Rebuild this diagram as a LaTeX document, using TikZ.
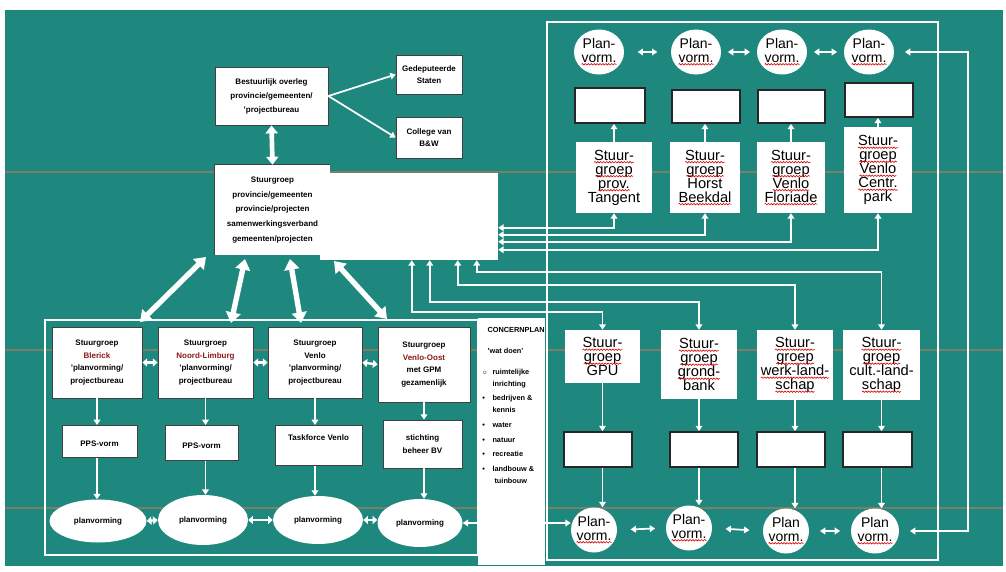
\documentclass[tikz,border=0pt]{standalone}
\usepackage{fontspec}
\setmainfont{Liberation Sans}
\usetikzlibrary{arrows.meta,decorations.pathmorphing,calc,shapes.geometric}
\definecolor{teal1}{RGB}{30,136,126}
\definecolor{dred}{RGB}{140,25,25}
\definecolor{stripe}{RGB}{214,120,80}
\newcommand\sq[1]{\tikz[baseline=(w.base)]{\node[inner sep=0pt,outer sep=0pt,anchor=base,minimum size=0pt,draw=none,fill=none,align=left](w){#1};\draw[red!85!black,line width=0.45pt,decorate,decoration={snake,amplitude=0.55pt,segment length=2.2pt}]([yshift=-1.6pt]w.base west)--([yshift=-1.6pt]w.base east);}}
\begin{document}
\begin{tikzpicture}[x=0.75pt,y=-0.75pt,
  sz/.style 2 args={minimum width=#1pt*0.75, minimum height=#2pt*0.75},
  wbox/.style={fill=white,draw=black!75,line width=0.6pt,inner sep=0pt},
  sbox/.style={fill=white,draw=none,inner sep=0pt},
  ebox/.style={fill=white,draw=black!85,line width=1.3pt,inner sep=0pt},
  circ/.style={ellipse,fill=white,draw=none,inner sep=0pt},
  lt/.style={font=\fontsize{11}{10.5}\selectfont,align=center,text=black},
  ct/.style={font=\fontsize{10.5}{10}\selectfont,align=center,text=black,inner sep=0pt},
  bt/.style={font=\bfseries\fontsize{6}{9.5}\selectfont,align=center,text=black},
  con/.style={white,line width=1.3pt,-{Triangle[width=5pt,length=4pt]}},
  dcon/.style={white,line width=1.3pt,{Triangle[width=5pt,length=4pt]}-{Triangle[width=5pt,length=4pt]}},
  sdcon/.style={white,line width=1.8pt,{Triangle[width=6pt,length=3.5pt]}-{Triangle[width=6pt,length=3.5pt]}},
  fat/.style={white,line width=4pt,{Triangle[width=11pt,length=8pt]}-{Triangle[width=11pt,length=8pt]}},
  frame/.style={white,line width=1.3pt}
]
\useasboundingbox (0,0) rectangle (1006,571);
\fill[white] (0,0) rectangle (1006,571);
\fill[teal1] (5,10) rectangle (1003,566);
\foreach \yy in {172,350,508} \draw[stripe,opacity=0.5,line width=0.8pt] (5,\yy) -- (1003,\yy);

% frames
\draw[frame] (45,320) rectangle (478,555);
\draw[frame] (547,22) rectangle (938,560);

% ---------- top left ----------
\node[wbox,sz={113}{58},bt,font=\bfseries\fontsize{6}{10.5}\selectfont] (bo) at (271.5,96) {Bestuurlijk overleg\\ provincie/gemeenten/\\ 'projectbureau};
\node[wbox,sz={66}{39},bt] (gs) at (429,74.5) {Gedeputeerde\\ Staten};
\node[wbox,sz={66}{41},bt] (bw) at (429,137.5) {College van\\ B\&W};
\node[sbox,sz={178}{87}] (wb) at (409,216.5) {};
\node[sbox,sz={115}{90},bt,font=\bfseries\fontsize{6}{11}\selectfont] (sg) at (272.5,210) {Stuurgroep\\ provincie/gemeenten\\ provincie/projecten\\ samenwerkingsverband\\ gemeenten/projecten};
\draw[black!75,line width=0.6pt] (sg.south west) |- (sg.north east);

\draw[con] (bo.east) -- (gs.west);
\draw[con] (bo.east) -- (bw.west);
\draw[white,line width=3.5pt,{Triangle[width=9pt,length=6pt]}-{Triangle[width=9pt,length=6pt]}] (bo.south) -- (sg.north);

% ---------- left lower ----------
\node[wbox,sz={90}{71},bt] (lb1) at (97,362.5) {Stuurgroep\\ \textcolor{dred}{Blerick}\\ 'planvorming/\\ projectbureau};
\node[wbox,sz={95}{71},bt] (lb2) at (205.5,362.5) {Stuurgroep\\ \textcolor{dred}{Noord-Limburg}\\ 'planvorming/\\ projectbureau};
\node[wbox,sz={94}{71},bt] (lb3) at (315,362.5) {Stuurgroep\\ Venlo\\ 'planvorming/\\ projectbureau};
\node[wbox,sz={92}{75},bt] (lb4) at (424,364.5) {Stuurgroep\\ \textcolor{dred}{Venlo-Oost}\\ met GPM\\ gezamenlijk};

\node[wbox,sz={75}{32},bt,anchor=north] (lc1) at (99.5,425) {\rule{0pt}{8pt}PPS-vorm};
\node[wbox,sz={73}{35},bt,anchor=north] (lc2) at (201.5,425) {\rule{0pt}{8pt}PPS-vorm};
\node[wbox,sz={87}{40},bt,anchor=north] (lc3) at (318.5,425) {\rule{0pt}{8pt}Taskforce Venlo\\[6pt]\mbox{}};
\node[wbox,sz={79}{48},bt] (lc4) at (422.5,444) {stichting\\ beheer BV};

\node[circ,sz={97}{43},bt] (le1) at (98,521) {planvorming};
\node[circ,sz={90}{50},bt] (le2) at (203,520) {planvorming};
\node[circ,sz={90}{48},bt] (le3) at (318,520) {planvorming};
\node[circ,sz={85}{48},bt] (le4) at (420,523) {planvorming};

\foreach \i in {1,2,3,4} {
  \draw[con] (lb\i.south) -- (lb\i.south |- lc\i.north);
  \draw[con] (lb\i.south |- lc\i.south) -- (lb\i.south |- le\i.north);
}
\draw[sdcon] (lb1.east) -- (lb2.west);
\draw[sdcon] (lb2.east) -- (lb3.west);
\draw[sdcon] (lb3.east) -- (lb4.west);
\draw[sdcon] (le1.east) -- (le2.west);
\draw[sdcon] (le2.east) -- (le3.west);
\draw[sdcon] (le3.east) -- (le3.east -| le4.west);

% fat arrows to the stuurgroep
\coordinate (f1) at (206,257);
\coordinate (f2) at (245,259);
\coordinate (f3) at (290,259);
\coordinate (f4) at (334,261);
\draw[fat] (f1) -- (140,322);
\draw[fat] (f2) -- (231,323);
\draw[fat] (f3) -- (301,323);
\draw[fat] (f4) -- (387,319);

% ---------- right top ----------
\node[circ,sz={50}{45}] (pt1) at (599,52) {};
\node[circ,sz={50}{45}] (pt2) at (696,52) {};
\node[circ,sz={50}{45}] (pt3) at (782,52) {};
\node[circ,sz={50}{45}] (pt4) at (869,52) {};
\foreach \i in {1,2,3,4} \node[ct] (pt\i t) at (pt\i) {Plan-\\ \sq{vorm.}};

\node[ebox,sz={70}{35}] (rt1) at (610,105.5) {};
\node[ebox,sz={68}{33}] (rt2) at (706,106.5) {};
\node[ebox,sz={67}{33}] (rt3) at (791.5,106.5) {};
\node[ebox,sz={68}{34}] (rt4) at (879,100) {};

\node[sbox,sz={76}{71},lt] (st1) at (614,177.5) {\sq{Stuur-}\\ \sq{groep}\\ \sq{prov.}\\ Tangent};
\node[sbox,sz={70}{71},lt] (st2) at (705,177.5) {\sq{Stuur-}\\ \sq{groep}\\ Horst\\ \sq{Beekdal}};
\node[sbox,sz={68}{71},lt] (st3) at (791,177.5) {\sq{Stuur-}\\ \sq{groep}\\ \sq{Venlo}\\ \sq{Floriade}};
\node[sbox,sz={68}{86},lt] (st4) at (878,170) {\sq{Stuur-}\\ \sq{groep}\\ \sq{Venlo}\\ \sq{Centr.}\\ park};

\foreach \i in {1,2,3,4} \draw[con] (st\i.north) -- (st\i.north |- rt\i.south);
\draw[dcon,shorten <=10pt,shorten >=10pt] (pt1.east) -- (pt2.west);
\draw[dcon,shorten <=5pt,shorten >=5pt] (pt2.east) -- (pt3.west);
\draw[dcon,shorten <=5pt,shorten >=5pt] (pt3.east) -- (pt4.west);

% ---------- right bottom ----------
\node[sbox,sz={75}{53},lt] (sb1) at (602.5,356.5) {\sq{Stuur-}\\ \sq{groep}\\ GPU};
\node[sbox,sz={76}{69},lt] (sb2) at (699,364.5) {\sq{Stuur-}\\ \sq{groep}\\ \sq{grond-}\\ bank};
\node[sbox,sz={76}{70},lt] (sb3) at (795,365) {\sq{Stuur-}\\ \sq{groep}\\ \sq{werk-land-}\\ \sq{schap}};
\node[sbox,sz={77}{70},lt] (sb4) at (881.5,365) {\sq{Stuur-}\\ \sq{groep}\\ cult.-land-\\ \sq{schap}};

\node[ebox,sz={68}{35}] (rb1) at (598,449.5) {};
\node[ebox,sz={68}{35}] (rb2) at (704,449.5) {};
\node[ebox,sz={68}{35}] (rb3) at (791,449.5) {};
\node[ebox,sz={69}{35}] (rb4) at (877.5,449.5) {};

\node[circ,sz={46}{45}] (pb1) at (594,530) {};
\node[circ,sz={46}{45}] (pb2) at (689,528) {};
\node[circ,sz={46}{45}] (pb3) at (786,531) {};
\node[circ,sz={48}{45}] (pb4) at (875,531) {};
\node[ct] (pb1t) at (pb1) {Plan-\\ \sq{vorm.}};
\node[ct] (pb2t) at (pb2) {Plan-\\ \sq{vorm.}};
\node[ct] (pb3t) at (pb3) {Plan\\ \sq{vorm.}};
\node[ct] (pb4t) at (pb4) {Plan\\ \sq{vorm.}};

\foreach \i in {1,2,3,4} {
  \draw[con] (sb\i.south) -- (sb\i.south |- rb\i.north);
  \draw[con] (sb\i.south |- rb\i.south) -- (sb\i.south |- pb\i.north);
}
\draw[dcon,shorten <=10pt,shorten >=8pt] (pb1.east) -- (pb2.west);
\draw[dcon,shorten <=10pt,shorten >=10pt] (pb2.east) -- (pb3.west);
\draw[dcon,shorten <=8pt,shorten >=8pt] (pb3.east) -- (pb4.west);

% long connector on the right
\coordinate (rc) at (968,300);
\draw[dcon,shorten <=8pt,shorten >=8pt] (pt4.east) -- (pt4.east -| rc) |- (pb4.east);

% connectors top stuurgroepen -> central block
\draw[dcon] (st1.south) |- ($(wb.north east)+(0,55)$);
\draw[dcon] (st2.south) |- ($(wb.north east)+(0,62)$);
\draw[dcon] (st3.south) |- ($(wb.north east)+(0,69)$);
\draw[dcon] (st4.south) |- ($(wb.north east)+(0,77)$);

% connectors central block -> lower stuurgroepen
\draw[dcon] ($(wb.south west)+(92,0)$) -- ++(0,52) -| (sb1.north);
\draw[dcon] ($(wb.south west)+(110,0)$) -- ++(0,42) -| (sb2.north);
\draw[dcon] ($(wb.south west)+(138,0)$) -- ++(0,25) -| (sb3.north);
\draw[dcon] ($(wb.south west)+(157,0)$) -- ++(0,12) -| (sb4.north);

% connector planvorming -> plan-vorm.
\draw[dcon] (le4.east) -- (le4.east -| pb1.west);

% side box
\node[sbox,sz={67}{247}] (sd) at (511.5,441.5) {};
\node[anchor=north west,inner sep=0pt,font=\bfseries\fontsize{5.5}{9}\selectfont,align=left] (sdt) at (482,327)
{\hspace*{4pt}CONCERNPLAN\\[7pt]
 \hspace*{4pt}'wat doen'\\[8pt]
 \begin{tabular}{@{}l@{\hspace{4pt}}l@{}}
 $\circ$ & ruimtelijke\\ & inrichting\\[2pt]
 • & bedrijven \&\\ & kennis\\[2pt]
 • & water\\[2pt]
 • & natuur\\[2pt]
 • & recreatie\\[2pt]
 • & landbouw \&\\ & \ tuinbouw
 \end{tabular}};
\end{tikzpicture}
\end{document}
